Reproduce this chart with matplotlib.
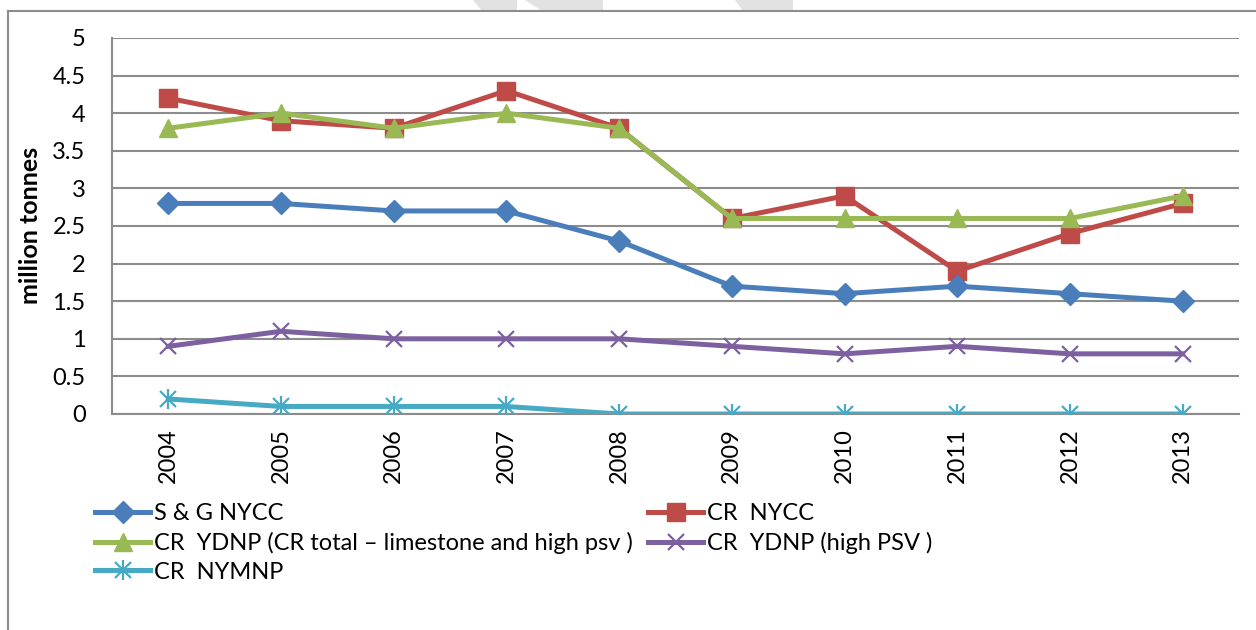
import matplotlib
matplotlib.use("Agg")
import matplotlib.pyplot as plt
from matplotlib.lines import Line2D
from matplotlib.patches import Polygon

plt.rcParams['font.family'] = ['Lato', 'DejaVu Sans']

years = ['2004', '2005', '2006', '2007', '2008', '2009', '2010', '2011', '2012', '2013']
sg_nycc = [2.8, 2.8, 2.7, 2.7, 2.3, 1.7, 1.6, 1.7, 1.6, 1.5]
cr_nycc = [4.2, 3.9, 3.8, 4.3, 3.8, 2.6, 2.9, 1.9, 2.4, 2.8]
cr_ydnp_total = [3.8, 4.0, 3.8, 4.0, 3.8, 2.6, 2.6, 2.6, 2.6, 2.9]
cr_ydnp_psv = [0.9, 1.1, 1.0, 1.0, 1.0, 0.9, 0.8, 0.9, 0.8, 0.8]
cr_nymnp = [0.2, 0.1, 0.1, 0.1, 0.0, 0.0, 0.0, 0.0, 0.0, 0.0]

labels = ['S & G NYCC', 'CR  NYCC', 'CR  YDNP (CR total \u2013 limestone and high psv )',
          'CR  YDNP (high PSV )', 'CR  NYMNP']
colors = ['#4A7EBB', '#BE4B48', '#98B954', '#7D60A0', '#46AAC5']

W, H = 1256, 630
FS = 17
fig = plt.figure(figsize=(W / 100, H / 100), dpi=100)
fig.patch.set_facecolor('white')

# faint watermark bands at the very top
for pts in [[(473, 0), (517, 0), (517, 11), (482, 11)],
            [(525, 0), (603, 0), (603, 11), (542, 11)],
            [(735, 0), (793, 0), (793, 11), (743, 11)]]:
    fig.add_artist(Polygon([(x / W, 1 - y / H) for x, y in pts], closed=True,
                           transform=fig.transFigure, facecolor='#E2E2E2', edgecolor='none'))

# chart frame (left and top edge visible)
fig.add_artist(Line2D([8 / W, 8 / W], [0, 1 - 11 / H], transform=fig.transFigure,
                      color='#8C8C8C', lw=1.5))
fig.add_artist(Line2D([8 / W, 1], [1 - 11 / H, 1 - 11 / H], transform=fig.transFigure,
                      color='#8C8C8C', lw=1.5))

ax = fig.add_axes([112 / W, 1 - 414 / H, (1239 - 112) / W, (414 - 38) / H])
x = list(range(len(years)))

lw = 3.6
h_sg, = ax.plot(x, sg_nycc, color=colors[0], lw=lw, marker='D', ms=11,
                markeredgecolor=colors[0], zorder=5)
h_cr, = ax.plot(x, cr_nycc, color=colors[1], lw=lw, marker='s', ms=12.5,
                markeredgecolor=colors[1], zorder=4)
h_yt, = ax.plot(x, cr_ydnp_total, color=colors[2], lw=lw, marker='^', ms=13.5,
                markeredgecolor=colors[2], zorder=6)
h_yp, = ax.plot(x, cr_ydnp_psv, color=colors[3], lw=lw, marker='x', ms=11.5,
                markeredgewidth=1.6, zorder=5)
h_ny, = ax.plot(x, cr_nymnp, color=colors[4], lw=lw, marker='x', ms=11.5,
                markeredgewidth=1.6, zorder=5)
h_ny2, = ax.plot(x, cr_nymnp, color=colors[4], lw=0, marker='|', ms=15,
                 markeredgewidth=1.6, zorder=5)

ax.set_xlim(-0.5, len(years) - 0.5)
ax.set_ylim(0, 5)
ax.set_yticks([0, 0.5, 1, 1.5, 2, 2.5, 3, 3.5, 4, 4.5, 5])
ax.set_yticklabels(['0', '0.5', '1', '1.5', '2', '2.5', '3', '3.5', '4', '4.5', '5'])
ax.set_xticks(x)
ax.set_xticklabels(years, rotation=90)
ax.tick_params(axis='y', length=0, pad=19, labelsize=FS)
ax.tick_params(axis='x', length=0, pad=10, labelsize=FS)
ax.grid(axis='y', color='#8C8C8C', lw=1.5)
ax.set_axisbelow(True)
for side in ['top', 'right']:
    ax.spines[side].set_visible(False)
for side in ['left', 'bottom']:
    ax.spines[side].set_color('#8C8C8C')
    ax.spines[side].set_linewidth(1.5)

fig.text(30 / W, 1 - 225 / H, 'million tonnes', rotation=90, ha='center', va='center',
         fontsize=18, fontweight='bold')

legend_kw = dict(frameon=False, fontsize=FS, handlelength=2.35, handletextpad=0.15,
                 labelspacing=0.33, borderpad=0, borderaxespad=0, loc='upper left')
leg1 = fig.legend([h_sg, h_yt, (h_ny, h_ny2)], [labels[0], labels[2], labels[4]],
                  bbox_to_anchor=(95 / W, 1 - 503 / H), **legend_kw)
leg2 = fig.legend([h_cr, h_yp], [labels[1], labels[3]],
                  bbox_to_anchor=(648 / W, 1 - 503 / H), **legend_kw)

fig.savefig('out.png', dpi=100, facecolor='white')
